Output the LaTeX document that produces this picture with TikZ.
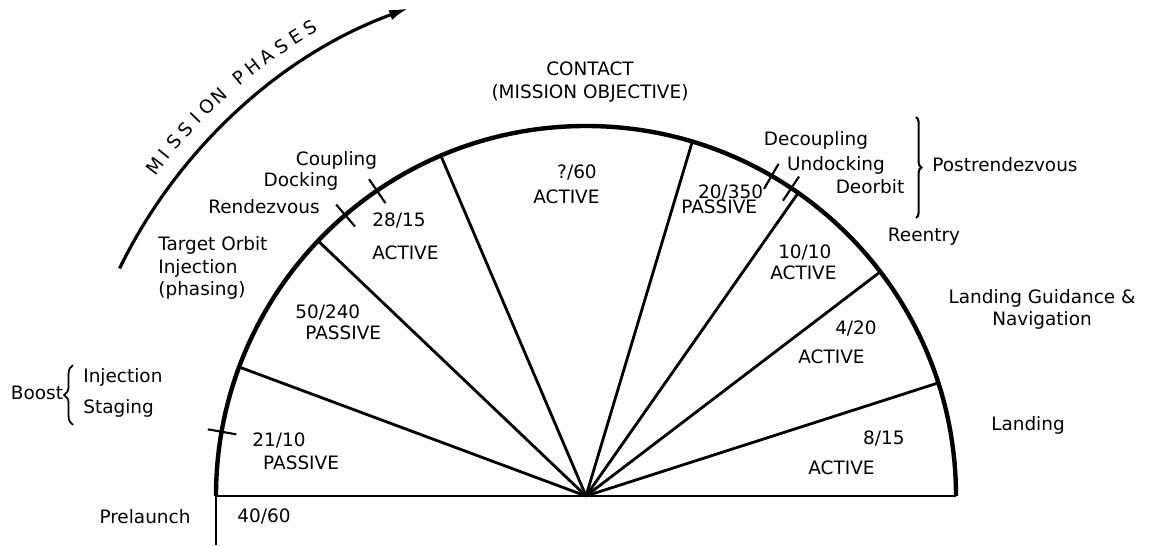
\documentclass[tikz,border=0pt]{standalone}
\usepackage{fontspec}
\setmainfont{DejaVu Sans}
\usetikzlibrary{arrows.meta,decorations.pathreplacing}

\begin{document}
\begin{tikzpicture}[x=0.02cm,y=0.02cm,
    font=\fontsize{10.5}{12.6}\selectfont,
    rim/.style={line width=2.5pt},
    spoke/.style={line width=1.6pt},
    tickmark/.style={line width=1.2pt},
    inlbl/.style={anchor=west, align=left, inner sep=0pt},
    outlbl/.style={inner sep=0pt}]
    \useasboundingbox (-586,-49) rectangle (573,496);

    % hub and rim
    \coordinate (c) at (0,0);
    \coordinate (rimL) at (180:370);
    \coordinate (rimR) at (0:370);
    \coordinate (foot) at (-370,-49);
    \draw[rim] (rimL) arc (180:0:370);
    \draw[spoke] (rimL) -- (rimR);
    \draw[spoke] (rimL) -- (foot);

    % phase boundaries
    \foreach \a [count=\i] in {159.6,136.4,113.1,73.3,55,37.3,17.8} {
        \coordinate (s\i) at (\a:370);
        \draw[spoke] (c) -- (s\i);
    }

    % small ticks on the rim
    \foreach \a in {170,130.6,124.4,59.9,56.3}
        \draw[tickmark] (\a:355) -- (\a:384);

    % mission phases arrow
    \draw[line width=1.8pt, -{Latex[length=11pt,width=6pt]}] (154:519) arc (154:110:519);
    \foreach \ch [count=\i] in {M,I,S,S,I,O,N}
        \node[outlbl, rotate={142.6-(\i-1)*1.67-90}] (mp\i) at ({142.6-(\i-1)*1.67}:543) {\ch};
    \foreach \ch [count=\i] in {P,H,A,S,E,S}
        \node[outlbl, rotate={129.6-(\i-1)*1.82-90}] (ph\i) at ({129.6-(\i-1)*1.82}:543) {\ch};

    % values inside the sectors
    \node[inlbl] (obj) at (-53,311.5) {\hspace*{13.6pt}?/60\\[1.6pt]ACTIVE};
    \node[inlbl] (post) at (95,296.5) {\hspace*{9.6pt}20/350\\[-4.1pt]PASSIVE};
    \node[inlbl] (dock) at (-214,259.5) {28/15\\[6.1pt]ACTIVE};
    \node[inlbl] (phas) at (-291,173.5) {50/240\\[-0.7pt]\hspace*{5.7pt}PASSIVE};
    \node[inlbl] (boost) at (-334,44.5) {21/10\\[0.4pt]\hspace*{6.2pt}PASSIVE};
    \node[inlbl] (pre) at (-349,-21) {40/60};
    \node[inlbl] (reen) at (184,233.5) {\hspace*{4.5pt}10/10\\[-0.7pt]ACTIVE};
    \node[inlbl] (guid) at (212,153.5) {\hspace*{21pt}4/20\\[3.8pt]ACTIVE};
    \node[inlbl] (land) at (222,43) {\hspace*{31.2pt}8/15\\[4.4pt]ACTIVE};

    % phase names
    \node[outlbl, align=center] (contact) at (4,414) {CONTACT\\(MISSION OBJECTIVE)};
    \node[outlbl] (coupling) at (-249.5,336) {Coupling};
    \node[outlbl] (docking) at (-285,315) {Docking};
    \node[outlbl] (rendez) at (-322,289) {Rendezvous};
    \node[inlbl] (target) at (-428,228) {Target Orbit\\Injection\\(phasing)};
    \node[outlbl] (boostname) at (-549,103) {Boost};
    \node[inlbl] (stages) at (-503,103) {Injection\\[5.5pt]Staging};
    \draw[decorate, decoration={brace, amplitude=5pt}, line width=1pt] (-513,71) -- (-513,131);
    \node[outlbl] (prelaunch) at (-441,-21) {Prelaunch};
    \node[outlbl] (decoupling) at (230,356) {Decoupling};
    \node[outlbl] (undocking) at (250,331) {Undocking};
    \node[outlbl] (deorbit) at (284,309) {Deorbit};
    \draw[decorate, decoration={brace, amplitude=3pt}, line width=1.2pt] (330,379) -- (330,278);
    \node[outlbl] (postrendez) at (419,331) {Postrendezvous};
    \node[outlbl] (reentry) at (338,259) {Reentry};
    \node[outlbl, align=center] (landguid) at (456,187) {Landing Guidance \&\\Navigation};
    \node[outlbl] (landing) at (442,71) {Landing};
\end{tikzpicture}
\end{document}
